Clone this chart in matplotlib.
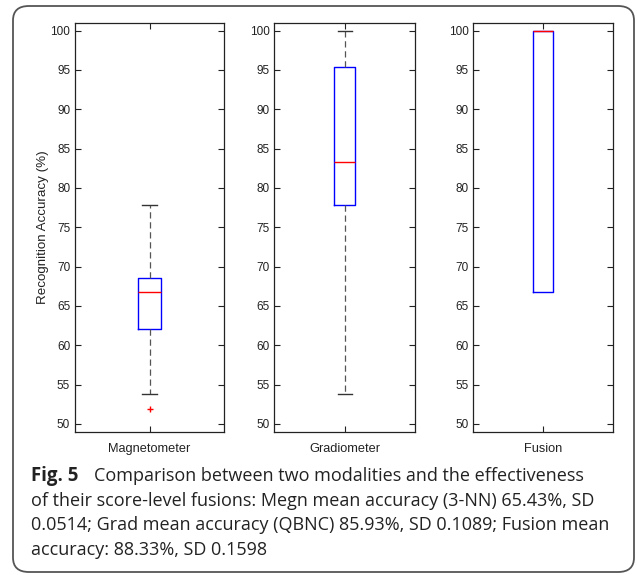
import matplotlib
matplotlib.use("Agg")
import matplotlib.pyplot as plt
from matplotlib.patches import FancyBboxPatch

# box statistics (accuracy in %)
names = ["Magnetometer", "Gradiometer", "Fusion"]
whislo = [53.8, 53.8, 66.7]
q1s = [62.1, 77.8, 66.7]
medians = [66.7, 83.3, 100.0]
q3s = [68.5, 95.4, 100.0]
whishi = [77.8, 100.0, 100.0]
fliers = [[51.9], [], []]

yticks = list(range(50, 101, 5))

fig = plt.figure(figsize=(6.37, 5.75), dpi=100)
plt.rcParams['font.family'] = ['Liberation Sans', 'DejaVu Sans']

# rounded frame around the figure + caption
frame = FancyBboxPatch((13 / 637, 3 / 575), 621 / 637, 566 / 575,
                       boxstyle="round,pad=0,rounding_size=0.025",
                       transform=fig.transFigure, fill=False,
                       edgecolor='#555555', linewidth=1.3)
fig.patches.append(frame)

lefts = [75, 274.3, 473.3]
widths = [149, 140.7, 139.4]
bottom = 1 - 431.7 / 575
height = (431.7 - 22.7) / 575

for i in range(3):
    ax = fig.add_axes([lefts[i] / 637, bottom, widths[i] / 637, height])
    stats = [{
        'med': medians[i], 'q1': q1s[i], 'q3': q3s[i],
        'whislo': whislo[i], 'whishi': whishi[i], 'fliers': fliers[i],
        'label': names[i]}]
    show_whisk = whislo[i] != q1s[i] or whishi[i] != q3s[i]
    ax.bxp(stats, positions=[1], widths=0.15, showcaps=show_whisk,
           boxprops=dict(color='blue', linewidth=1.0),
           medianprops=dict(color='red', linewidth=1.0),
           whiskerprops=dict(color='#555555', linestyle=(0, (5, 3)), linewidth=0.9),
           capprops=dict(color='#333333', linewidth=1.0),
           capwidths=0.1,
           flierprops=dict(marker='+', markeredgecolor='red', markersize=5,
                           linestyle='none'))
    ax.set_xlim(0.5, 1.5)
    ax.set_ylim(49, 101)
    ax.set_yticks(yticks)
    ax.tick_params(direction='in', top=True, right=True, labelsize=8.5,
                   colors='#222222', length=4, width=0.8)
    ax.tick_params(axis='x', pad=8, labelsize=9.2)
    for s in ax.spines.values():
        s.set_linewidth(0.9)
        s.set_color('#222222')
    if i == 0:
        ax.set_ylabel('Recognition Accuracy (%)', fontsize=9.6, color='#222222', labelpad=1)

cap_font = ['Open Sans', 'DejaVu Sans']
cap_size = 12.95
fig.text(31 / 637, 1 - 476 / 575, "Fig. 5", fontsize=13.4, fontweight='bold',
         family=cap_font, va='center', color='#222222')
fig.text(94 / 637, 1 - 476 / 575,
         "Comparison between two modalities and the effectiveness",
         fontsize=cap_size, family=cap_font, va='center', color='#222222')
rest = ["of their score-level fusions: Megn mean accuracy (3-NN) 65.43%, SD",
        "0.0514; Grad mean accuracy (QBNC) 85.93%, SD 0.1089; Fusion mean",
        "accuracy: 88.33%, SD 0.1598"]
ys = [501, 525, 550]
for line, y in zip(rest, ys):
    fig.text(31 / 637, 1 - y / 575, line, fontsize=cap_size, family=cap_font,
             va='center', color='#222222')

fig.savefig("out.png", dpi=100)
